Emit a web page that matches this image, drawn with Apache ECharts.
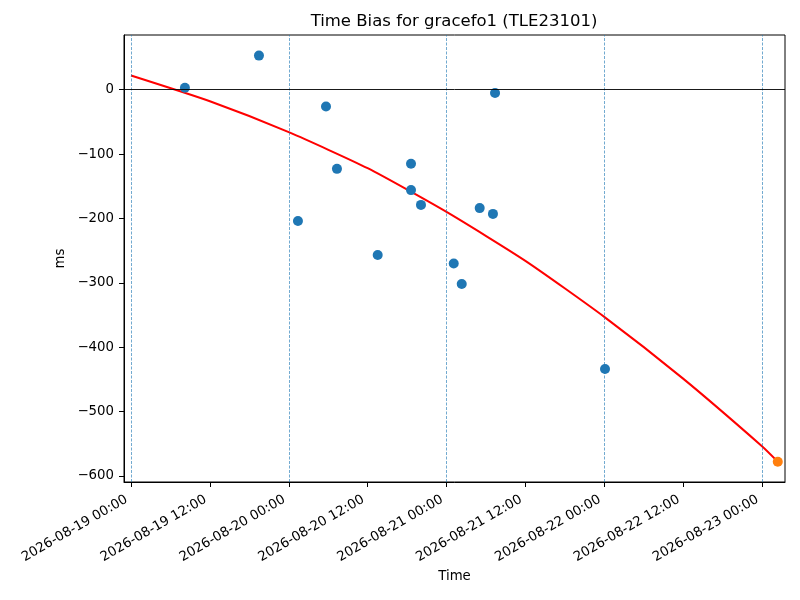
<!DOCTYPE html>
<html>
<head>
<meta charset="utf-8">
<script src="https://cdn.jsdelivr.net/npm/echarts@6/dist/echarts.min.js"></script>
<style>
  html, body { margin: 0; padding: 0; background: #fff; }
  #chart { width: 800px; height: 600px; }
</style>
</head>
<body>
<div id="chart"></div>
<script>
// observed time bias (ms)
var obsTimes = ['2026-08-19 08:12', '2026-08-19 19:28', '2026-08-20 01:24', '2026-08-20 05:40',
  '2026-08-20 07:20', '2026-08-20 13:32', '2026-08-20 18:36', '2026-08-20 18:36',
  '2026-08-20 20:07', '2026-08-21 01:06', '2026-08-21 02:19', '2026-08-21 05:03',
  '2026-08-21 07:04', '2026-08-21 07:23', '2026-08-22 00:07'];
var obsBias = [3, 53, -204, -26, -123, -257, -115, -156, -179, -270, -302, -184, -193, -5, -434];

// predicted point at the end
var predTimes = ['2026-08-23 02:24'];
var predBias = [-578];

// fitted curve, read every 12 h
var fitTimes = ['2026-08-19 00:00', '2026-08-19 12:00', '2026-08-20 00:00', '2026-08-20 12:00',
  '2026-08-21 00:00', '2026-08-21 12:00', '2026-08-22 00:00', '2026-08-22 12:00',
  '2026-08-23 00:00', '2026-08-23 02:24'];
var fitBias = [22, -18, -66, -122, -190, -266, -353, -449, -554, -578];

// day boundaries (dashed verticals)
var dayLines = ['2026-08-19 00:00', '2026-08-20 00:00', '2026-08-21 00:00', '2026-08-22 00:00', '2026-08-23 00:00'];

// tick labels
var xTicks = ['2026-08-19 00:00', '2026-08-19 12:00', '2026-08-20 00:00', '2026-08-20 12:00',
  '2026-08-21 00:00', '2026-08-21 12:00', '2026-08-22 00:00', '2026-08-22 12:00', '2026-08-23 00:00'];
var yTicks = [0, -100, -200, -300, -400, -500, -600];

var FONT = 'DejaVu Sans';

function ts(s) {
  return new Date(s.replace(' ', 'T') + ':00').getTime();
}
function pairs(t, v) {
  return t.map(function (s, i) { return [ts(s), v[i]]; });
}
function pad(n) { return (n < 10 ? '0' : '') + n; }
function fmtTime(v) {
  var d = new Date(v);
  return d.getFullYear() + '-' + pad(d.getMonth() + 1) + '-' + pad(d.getDate()) +
    ' ' + pad(d.getHours()) + ':' + pad(d.getMinutes());
}

var chart = echarts.init(document.getElementById('chart'));

var option = {
  animation: false,
  backgroundColor: '#fff',
  title: {
    text: 'Time Bias for gracefo1 (TLE23101)',
    left: 454,
    top: 13,
    padding: 0,
    textAlign: 'center',
    textStyle: { fontFamily: FONT, fontSize: 16.5, fontWeight: 'normal', color: '#000' }
  },
  grid: {
    left: 124, right: 15, top: 35, bottom: 118,
    show: true, borderColor: '#000', borderWidth: 1
  },
  // time kept as a value axis in ms so the ticks can be placed every 12 h
  xAxis: {
    type: 'value',
    min: ts('2026-08-18 22:56'),
    max: ts('2026-08-23 03:30'),
    scale: true,
    name: 'Time',
    nameLocation: 'middle',
    nameGap: 88,
    nameTextStyle: { fontFamily: FONT, fontSize: 13.3, color: '#000' },
    axisLine: { show: true, onZero: false, lineStyle: { color: '#000', width: 1 } },
    axisTick: { show: true, inside: false, length: 5, lineStyle: { color: '#000' },
      customValues: xTicks.map(ts) },
    axisLabel: {
      customValues: xTicks.map(ts),
      formatter: fmtTime,
      rotate: 30,
      margin: 14,
      padding: [0, 5, 0, 0],
      fontFamily: FONT, fontSize: 13.3, color: '#000'
    },
    splitLine: { show: false }
  },
  yAxis: {
    type: 'value',
    min: -609.6,
    max: 85,
    name: 'ms',
    nameLocation: 'middle',
    nameGap: 54,
    nameTextStyle: { fontFamily: FONT, fontSize: 13.3, color: '#000' },
    axisLine: { show: true, onZero: false, lineStyle: { color: '#000', width: 1 } },
    axisTick: { show: true, inside: false, length: 5, lineStyle: { color: '#000' },
      customValues: yTicks },
    axisLabel: {
      customValues: yTicks,
      formatter: function (v) { return String(v).replace('-', '\u2212'); },
      margin: 10,
      fontFamily: FONT, fontSize: 13.3, color: '#000'
    },
    splitLine: { show: false }
  },
  series: [
    {
      // guide lines only: day boundaries and zero
      name: 'guides',
      type: 'line',
      data: [],
      z: 1,
      markLine: {
        silent: true,
        symbol: 'none',
        label: { show: false },
        emphasis: { disabled: true },
        data: dayLines.map(function (s) {
          return { xAxis: ts(s), lineStyle: { color: '#1f77b4', width: 0.7, opacity: 0.9, type: [3, 1.5] } };
        }).concat([
          { yAxis: 0, lineStyle: { color: '#000', width: 0.9, opacity: 1, type: 'solid' } }
        ])
      }
    },
    {
      name: 'fit',
      type: 'line',
      data: pairs(fitTimes, fitBias),
      showSymbol: false,
      smooth: 0.2,
      z: 2,
      lineStyle: { color: '#ff0000', width: 2 }
    },
    {
      name: 'observed',
      type: 'scatter',
      data: pairs(obsTimes, obsBias),
      symbolSize: 10,
      z: 3,
      itemStyle: { color: '#1f77b4', opacity: 1 }
    },
    {
      name: 'predicted',
      type: 'scatter',
      data: pairs(predTimes, predBias),
      symbolSize: 10,
      z: 3,
      itemStyle: { color: '#ff7f0e', opacity: 1 }
    }
  ]
};

chart.setOption(option);
</script>
</body>
</html>
